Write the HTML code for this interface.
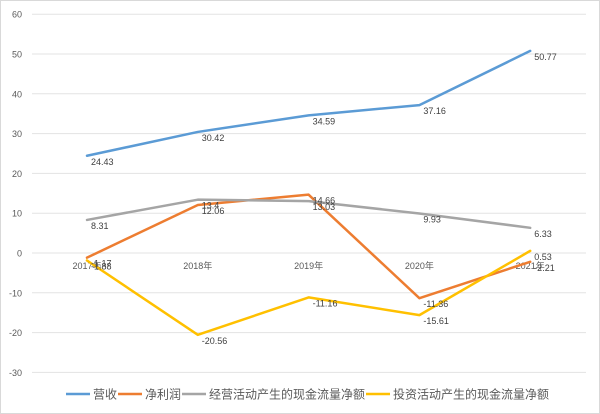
<!DOCTYPE html>
<html><head><meta charset="utf-8">
<style>
body{margin:0;background:#fff;}
svg{display:block;font-family:"Liberation Sans","Noto Sans CJK SC",sans-serif;}
</style></head>
<body>
<svg id="chart" width="600" height="414">
<rect x="0.5" y="0.5" width="599" height="413" fill="#fff" stroke="#d9d9d9"/>
<g id="grid"></g><g id="lines"></g><g id="labels"></g><g id="legend"></g>
</svg>
<script>
const categories=["2017年","2018年","2019年","2020年","2021年"];
const seriesNames=["营收","净利润","经营活动产生的现金流量净额","投资活动产生的现金流量净额"];
const revenue=[24.43,30.42,34.59,37.16,50.77];
const netProfit=[-1.17,12.06,14.66,-11.36,-2.21];
const opCash=[8.31,13.4,13.03,9.93,6.33];
const invCash=[-1.88,-20.56,-11.16,-15.61,0.53];
const yTicks=[60,50,40,30,20,10,0,-10,-20,-30];
const colors=["#5b9bd5","#ed7d31","#a5a5a5","#ffc000"];
const NS="http://www.w3.org/2000/svg";
const y=v=>253-v*3.98;
const x=i=>87+i*110.8;
function mk(t,a,p){const e=document.createElementNS(NS,t);for(const k in a)e.setAttribute(k,a[k]);p.appendChild(e);return e;}
const grid=document.getElementById('grid');
yTicks.forEach(t=>{
 const l=mk('line',{x1:32,x2:586,y1:y(t),y2:y(t),stroke:'#e3e3e3','stroke-width':1},grid);
 
 
 const tx=mk('text',{x:22,y:y(t)+3.5,'text-anchor':'end','font-size':9,fill:'#595959'},grid);
 tx.textContent=t;
 
 
});
categories.forEach((c,i)=>{
 const tx=mk('text',{x:x(i),y:y(0)+16,'text-anchor':'middle','font-size':9,fill:'#595959'},grid);
 tx.textContent=c;
 
 
});
const data=[revenue,netProfit,opCash,invCash];
const lines=document.getElementById('lines'),labels=document.getElementById('labels');
data.forEach((s,si)=>{
 const pts=s.map((v,i)=>x(i)+','+y(v)).join(' ');
 const pl=mk('polyline',{points:pts,fill:'none',stroke:colors[si],'stroke-width':2.5,'stroke-linejoin':'round','stroke-linecap':'round'},lines);
 
 
 s.forEach((v,i)=>{
  const tx=mk('text',{x:x(i)+4,y:y(v)+9,'font-size':9,fill:'#404040'},labels);
  tx.textContent=String(v);
  
  
 });
});
const legend=document.getElementById('legend');
let lx=66;
seriesNames.forEach((n,i)=>{
 const l=mk('line',{x1:lx,x2:lx+24,y1:394,y2:394,stroke:colors[i],'stroke-width':2.5},legend);
 
 
 const t=mk('text',{x:lx+27,y:398.5,'font-size':12,fill:'#595959'},legend);
 t.textContent=n;
 
 
 lx+=27+n.length*12+1;
});
</script>
</body></html>
